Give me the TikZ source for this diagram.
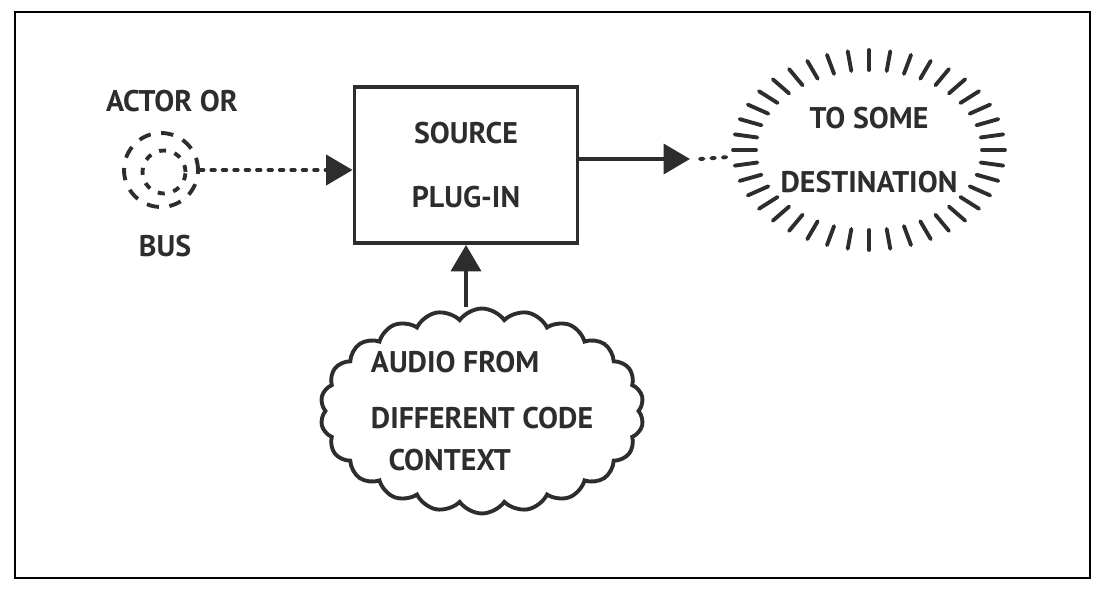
\documentclass[tikz,border=0pt]{standalone}
\usepackage{fontspec}
\setmainfont{PT Sans}
\usetikzlibrary{arrows.meta,shapes.symbols}
\definecolor{ink}{RGB}{45,45,45}
\begin{document}
\begin{tikzpicture}[x=0.02cm,y=-0.02cm,
  pen/.style={draw=ink,line width=2.2pt},
  dots/.style={pen,line cap=round,dash pattern=on 2pt off 4.5pt},
  tip/.style={-{Triangle[length=15pt,width=17pt]}},
  hand/.style={text=ink,font=\fontsize{17}{20}\selectfont\bfseries}]
\tikzstyle{every node}+=[inner sep=0pt,hand]
\useasboundingbox (0,0) rectangle (1103,591);
\fill [white] (0,0) rectangle (1103,591);
\draw [black,line width=1.2pt] (15,12) rectangle (1090,578);
% actor or bus
\node [circle,pen,dash pattern=on 7pt off 6pt,minimum size=1.48cm] (actor) at (161,170) {};
\node [circle,pen,dash pattern=on 4pt off 5pt,minimum size=0.86cm] (actin) at (164,172) {};
\node (actlbl) at (172,101) {ACTOR OR};
\node (buslbl) at (165,246) {BUS};
% plug-in box
\node [pen,rectangle,minimum width=4.46cm,minimum height=3.12cm,align=center] (src) at (466,165) {SOURCE\\[16pt]PLUG-IN};
\draw [dots,tip] (actor.east) -- (src.west |- actor.east);
% destination
\node [align=center] (dest) at (869,150) {TO SOME\\[16pt]DESTINATION};
\foreach \a in {0,9,...,351}
  \draw [pen,line cap=round] ([shift={(\a:113 and 80)}]dest.center) -- ([shift={(\a:136 and 100)}]dest.center);
\coordinate (head) at (690,159);
\coordinate (ringw) at (729,157);
\draw [pen,tip] (src.east |- head) -- (head);
\draw [dots] ([xshift=0.2cm]head) -- (ringw);
% audio cloud
\node [cloud,pen,cloud puffs=22,cloud puff arc=110,cloud ignores aspect,minimum width=6.0cm,minimum height=4.1cm,align=left] (cloud) at (482,411) {AUDIO FROM\\[12pt]DIFFERENT CODE\\[4pt]\hspace*{10pt}CONTEXT};
\draw [pen,tip] (cloud.north -| src.south) -- (src.south);
\end{tikzpicture}
\end{document}
